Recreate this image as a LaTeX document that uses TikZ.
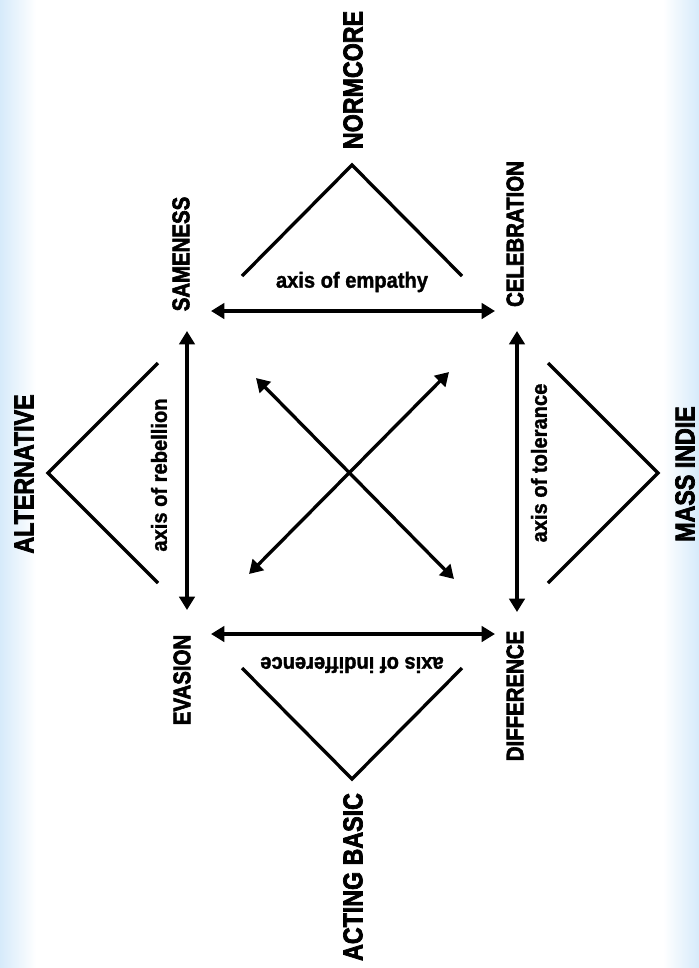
\documentclass[tikz,border=0pt]{standalone}
\usepackage{fontspec}
\setmainfont{Liberation Sans}
\newfontfamily\capsfont[FakeStretch=0.85,FakeBold=2.6]{Liberation Sans}
\newfontfamily\axisfont[FakeStretch=0.92,FakeBold=1.4]{Liberation Sans}
\usetikzlibrary{arrows.meta}
\definecolor{edgeblue}{RGB}{214,234,250}
\begin{document}
\begin{tikzpicture}[x=0.75pt,y=-0.75pt,>={Triangle[length=10pt,width=11.5pt]},
    big/.style={font=\capsfont\bfseries\fontsize{20.5}{21}\selectfont,rotate=90,inner sep=0pt},
    small/.style={font=\capsfont\bfseries\fontsize{18}{19}\selectfont,rotate=90,inner sep=0pt},
    axislabel/.style={font=\axisfont\bfseries\fontsize{16.4}{17}\selectfont,inner sep=0pt},
    stroke/.style={line width=2.5pt}]
    \useasboundingbox (0,0) rectangle (699,968);
    \fill[white] (0,0) rectangle (699,968);
    \shade[left color=edgeblue,right color=white] (0,0) rectangle (36,968);
    \shade[left color=white,right color=edgeblue] (663,0) rectangle (699,968);

    % corner words
    \node[small] (same) at (181,254) {SAMENESS};
    \node[small] (celeb) at (515,234) {CELEBRATION};
    \node[small] (evas) at (182,680) {EVASION};
    \node[small] (diff) at (515,696) {DIFFERENCE};
    \node[big] (normcore) at (353,80) {NORMCORE};
    \node[big] (alt) at (24,474) {ALTERNATIVE};
    \node[big] (mass) at (685,474) {MASS INDIE};
    \node[big] (basic) at (353,877) {ACTING BASIC};

    % axes
    \coordinate (eL) at (211,311); \coordinate (eR) at (495,311);
    \coordinate (iL) at (211,634); \coordinate (iR) at (495,634);
    \coordinate (rT) at (187,331); \coordinate (rB) at (187,610);
    \coordinate (tT) at (517,331); \coordinate (tB) at (517,612);
    \draw[stroke,<->](eL)--(eR);
    \draw[stroke,<->](iL)--(iR);
    \draw[stroke,<->](rT)--(rB);
    \draw[stroke,<->](tT)--(tB);
    \coordinate (xNW) at (256,378); \coordinate (xSE) at (454,579);
    \coordinate (xNE) at (449,372); \coordinate (xSW) at (249,574);
    \draw[stroke,<->](xNW)--(xSE);
    \draw[stroke,<->](xNE)--(xSW);
    \node[axislabel] (empathy) at (352,282) {axis of empathy};
    \node[axislabel,rotate=180] (indiff) at (352,665) {axis of indifference};
    \node[axislabel,rotate=90] (rebel) at (159,475) {axis of rebellion};
    \node[axislabel,rotate=90] (toler) at (539,463) {axis of tolerance};

    % roofs
    \draw[stroke](242,276)--(352,165)--(462,276);
    \draw[stroke](242,668)--(352,779)--(462,668);
    \draw[stroke](158,363)--(48,473)--(158,583);
    \draw[stroke](548,363)--(658,473)--(548,583);
\end{tikzpicture}
\end{document}
